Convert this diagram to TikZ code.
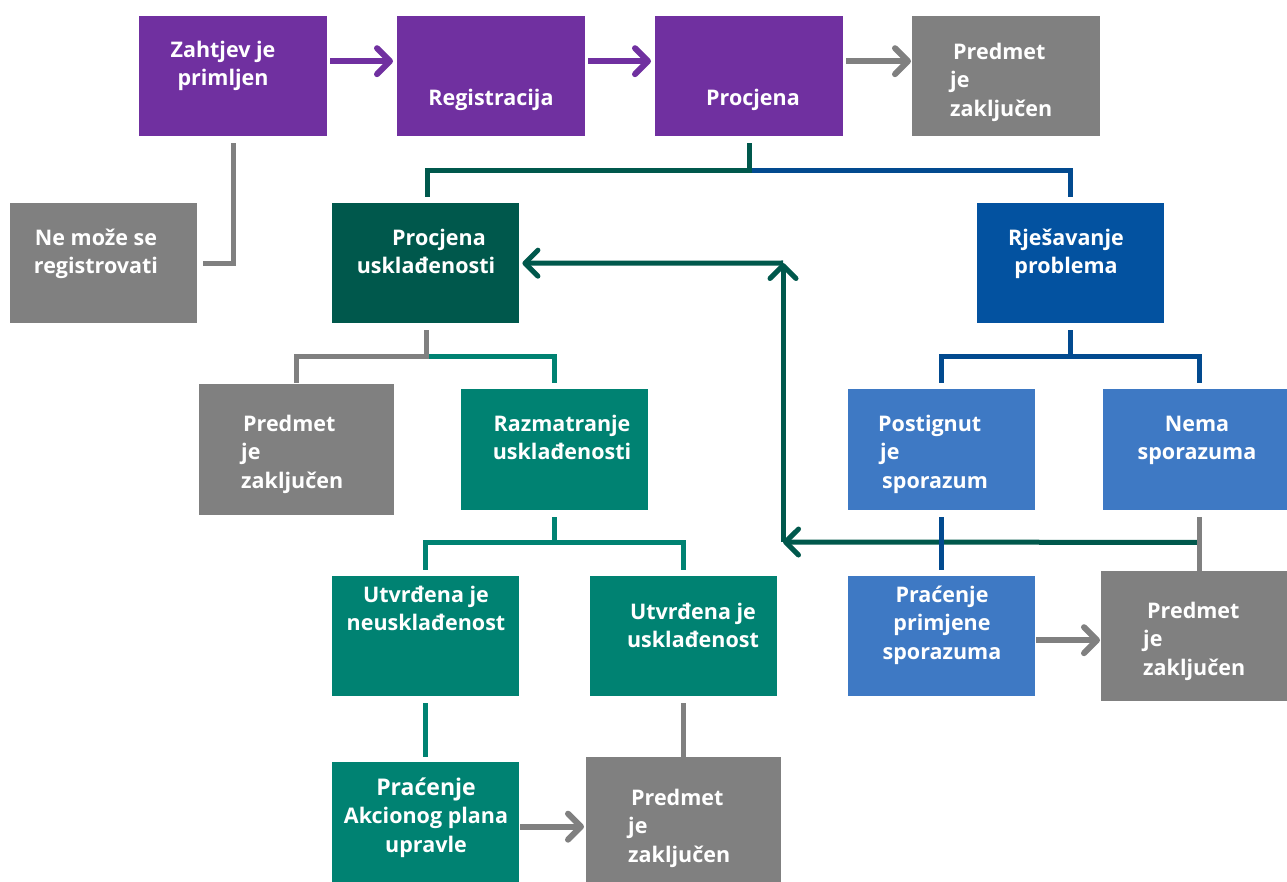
\documentclass[tikz,border=0pt]{standalone}
\usepackage{fontspec}
\setmainfont{Open Sans}
\usetikzlibrary{arrows.meta}
\definecolor{cpurple}{HTML}{7030A0}
\definecolor{cgray}{HTML}{808080}
\definecolor{cdkgreen}{HTML}{00584C}
\definecolor{cteal}{HTML}{008272}
\definecolor{cblue}{HTML}{0352A0}
\definecolor{clineblue}{HTML}{024A8F}
\definecolor{cltblue}{HTML}{3E79C4}
\tikzset{
  box/.style={draw=none, anchor=north west, inner sep=0pt, minimum width=#1},
  box/.default=188pt,
  txt/.style={text=white, inner sep=0pt, font=\bfseries\fontsize{21.5}{28.5}\selectfont},
  txtc/.style={txt, align=center, anchor=north},
  txtl/.style={txt, align=left, anchor=north west},
  conn/.style={line width=5pt},
  arr/.style={line width=6pt, -{Straight Barb[length=13pt,width=26pt,round]}},
}
\begin{document}
\begin{tikzpicture}[x=1pt,y=-1pt]
\useasboundingbox[fill=white] (0,0) rectangle (1287,882);
% boxes
\node[box, fill=cpurple, minimum height=120pt] (A) at (139,16) {};
\node[box, fill=cpurple, minimum height=120pt] (B) at (397,16) {};
\node[box, fill=cpurple, minimum height=120pt] (C) at (655,16) {};
\node[box, fill=cgray, minimum height=120pt] (D) at (912,16) {};
\node[box=187pt, fill=cgray, minimum height=120pt] (E) at (10,203) {};
\node[box=187pt, fill=cdkgreen, minimum height=120pt] (F) at (332,203) {};
\node[box=187pt, fill=cblue, minimum height=120pt] (G) at (977,203) {};
\node[box=195pt, fill=cgray, minimum height=131pt] (H) at (199,384) {};
\node[box=187pt, fill=cteal, minimum height=121pt] (I) at (461,389) {};
\node[box=187pt, fill=cltblue, minimum height=121pt] (N) at (848,389) {};
\node[box=188pt, fill=cltblue, minimum height=121pt] (O) at (1103,389) {};
\node[box=187pt, fill=cteal, minimum height=120pt] (J) at (332,576) {};
\node[box=187pt, fill=cteal, minimum height=120pt] (K) at (590,576) {};
\node[box=187pt, fill=cltblue, minimum height=120pt] (P) at (848,576) {};
\node[box=186pt, fill=cgray, minimum height=130pt] (Q) at (1101,571) {};
\node[box=187pt, fill=cteal, minimum height=125pt] (L) at (332,762) {};
\node[box=195pt, fill=cgray, minimum height=130pt] (M) at (586,757) {};
% texts
\node[txtc] (At) at (223,37) {\strut Zahtjev je\\primljen};
\node[txtc] (Bt) at (491,85) {\strut Registracija};
\node[txtc] (Ct) at (753,85) {\strut Procjena};
\node[txtl] (Dt) at (950,39) {\strut\hspace*{3pt}Predmet\\je\\zaključen};
\node[txtc] (Et) at (96,225) {\strut Ne može se\\registrovati};
\node[txtc] (Ft) at (426,225) {\strut\hspace*{26pt}Procjena\\usklađenosti};
\node[txtc] (Gt) at (1066,225) {\strut Rješavanje\\problema};
\node[txtl] (Ht) at (241,411) {\strut\hspace*{2pt}Predmet\\je\\zaključen};
\node[txtc] (It) at (562,411) {\strut Razmatranje\\usklađenosti};
\node[txtl] (Nt) at (878,411) {\strut Postignut\\\hspace*{2pt}je\\\hspace*{4pt}sporazum};
\node[txtc] (Ot) at (1197,411) {\strut Nema\\sporazuma};
\node[txtc] (Jt) at (426,582) {\strut Utvrđena je\\neusklađenost};
\node[txtc] (Kt) at (693,599) {\strut Utvrđena je\\usklađenost};
\node[txtc] (Pt) at (942,582) {\strut Praćenje\\primjene\\sporazuma};
\node[txtl] (Qt) at (1143,598) {\strut\hspace*{4pt}Predmet\\je\\zaključen};
\node[txtc] (Lt) at (426,775) {\strut{\fontsize{23}{28.5}\selectfont Praćenje}\\Akcionog plana\\upravle};
\node[txtl] (Mt) at (628,785) {\strut\hspace*{3pt}Predmet\\je\\zaključen};
% top arrows
\draw[arr, cpurple, shorten <=3pt, shorten >=4pt] ([yshift=15pt]A.east) -- ([yshift=15pt]B.west);
\draw[arr, cpurple, shorten <=3pt, shorten >=4pt] ([yshift=15pt]B.east) -- ([yshift=15pt]C.west);
\draw[arr, cgray, shorten <=3pt, shorten >=1pt] ([yshift=15pt]C.east) -- ([yshift=15pt]D.west);
% A -> E
\draw[conn, cgray] ([yshift=-7pt]A.south) |- ([xshift=6pt]E.east);
% C -> F, G
\coordinate (Cj) at ([yshift=-34pt]C.south);
\draw[conn, clineblue] (Cj) -| ([yshift=6pt]G.north);
\draw[conn, cdkgreen] ([yshift=-7pt]C.south) -- (Cj) -| ([xshift=1.5pt,yshift=6pt]F.north);
% F -> H, I
\coordinate (Fj) at ([xshift=1pt,yshift=-33pt]F.south);
\draw[conn, cteal] (Fj) -| ([yshift=6pt]I.north);
\draw[conn, cgray] ([xshift=1pt,yshift=-7pt]F.south) -- (Fj) -| ([yshift=1pt]H.north);
% I -> J, K
\coordinate (Ij) at ([yshift=-32pt]I.south);
\draw[conn, cteal] ([yshift=-7pt]I.south) -- (Ij) -| ([yshift=6pt]J.north);
\draw[conn, cteal] (Ij) -| ([yshift=6pt]K.north);
% J -> L, K -> M
\draw[conn, cteal] ([yshift=-7pt]J.south) -- ([yshift=5pt]L.north);
\draw[conn, cgray] ([yshift=-7pt]K.south) -- (M.north);
\draw[arr, cgray, shorten <=1pt, shorten >=2pt] ([yshift=-2pt]L.east) -- ([yshift=-2pt]L.east -| M.west);
% return arrows
\coordinate (Rb) at (783,542);
\coordinate (Rt) at (783,263);
\draw[arr, cdkgreen, line width=5pt] ([yshift=-32pt]O.south) -- (Rb);
\draw[arr, cdkgreen, line width=5pt] (Rb) -- (Rt);
\draw[arr, cdkgreen, line width=5pt, shorten >=3pt] (Rt) -- (F.east);
% G -> N, O
\coordinate (Gj) at ([yshift=-33pt]G.south);
\draw[conn, clineblue] ([yshift=-7pt]G.south) -- (Gj) -| ([yshift=6pt]N.north);
\draw[conn, clineblue] (Gj) -| ([xshift=2pt,yshift=6pt]O.north);
% N -> P, O -> Q
\draw[conn, clineblue] ([yshift=-7pt]N.south) -- ([yshift=6pt]P.north);
\draw[conn, cgray] ([xshift=2pt,yshift=-7pt]O.south) -- ([xshift=2pt]O.south |- Q.north);
\draw[arr, cgray, shorten <=1pt, shorten >=1pt] ([yshift=-4pt]P.east) -- ([yshift=-4pt]P.east -| Q.west);
\end{tikzpicture}
\end{document}
